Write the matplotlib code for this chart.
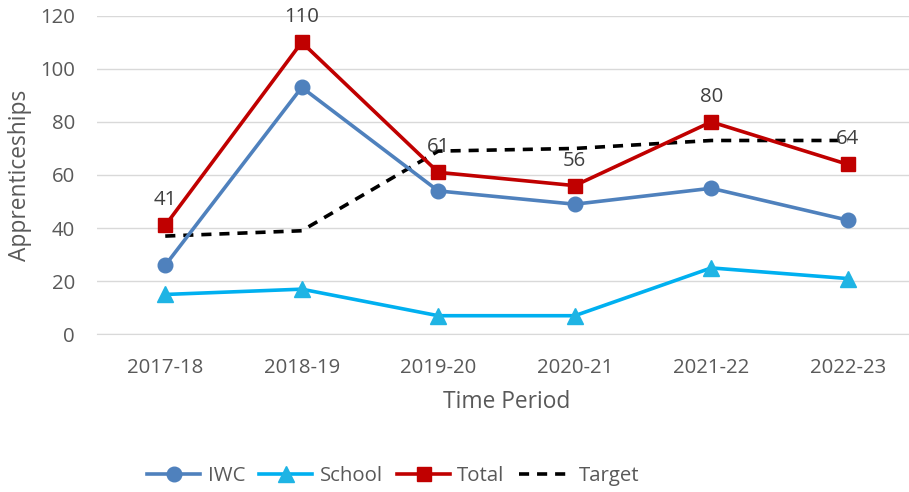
import matplotlib.pyplot as plt

periods = ["2017-18", "2018-19", "2019-20", "2020-21", "2021-22", "2022-23"]
iwc = [26, 93, 54, 49, 55, 43]
school = [15, 17, 7, 7, 25, 21]
total = [41, 110, 61, 56, 80, 64]
target = [37, 39, 69, 70, 73, 73]

plt.rcParams['font.family'] = ['Open Sans', 'DejaVu Sans']
text_col = '#595959'

fig = plt.figure(figsize=(9.09, 4.92), dpi=100)
ax = fig.add_axes([97 / 909, 157.7 / 492, 819 / 909, 318.6 / 492])

x = list(range(len(periods)))
ax.plot(x, iwc, color='#4F81BD', lw=2.6, marker='o', ms=10.5, label='IWC', zorder=3)
ax.plot(x, school, color='#00B0F0', lw=2.6, marker='^', ms=11,
        mfc='#1FB4E4', mec='#1FB4E4', label='School', zorder=3)
ax.plot(x, total, color='#C00000', lw=2.6, marker='s', ms=10, label='Total', zorder=4)
ax.plot(x, target, color='black', lw=2.6, ls=(0, (2.8, 2.2)), label='Target', zorder=2)

for xi, v in zip(x, total):
    ax.annotate(str(v), (xi, v), xytext=(0, 18), textcoords='offset points',
                ha='center', va='center', fontsize=14.7, color='#404040', zorder=5)

ax.set_xlim(-0.5, 5.5)
ax.set_ylim(0, 120)
ax.set_yticks(range(0, 121, 20))
ax.set_xticks(x)
ax.set_xticklabels(periods)
ax.grid(axis='y', color='#D9D9D9', lw=1)
ax.set_axisbelow(True)
for s in ['top', 'right', 'left']:
    ax.spines[s].set_visible(False)
ax.spines['bottom'].set_color('#D9D9D9')
ax.tick_params(axis='both', length=0, labelsize=14.7, labelcolor=text_col)
ax.tick_params(axis='x', pad=17)
ax.tick_params(axis='y', pad=16)

ax.set_xlabel('Time Period', fontsize=16.4, color=text_col, labelpad=9)
ax.set_ylabel('Apprenticeships', fontsize=16.4, color=text_col, labelpad=6)

fig.legend(loc='center', bbox_to_anchor=(0.433, 0.0325), ncol=4, frameon=False,
           fontsize=14.7, labelcolor=text_col, handlelength=2.6,
           handletextpad=0.35, columnspacing=0.7)

fig.savefig('out.png', dpi=100)
